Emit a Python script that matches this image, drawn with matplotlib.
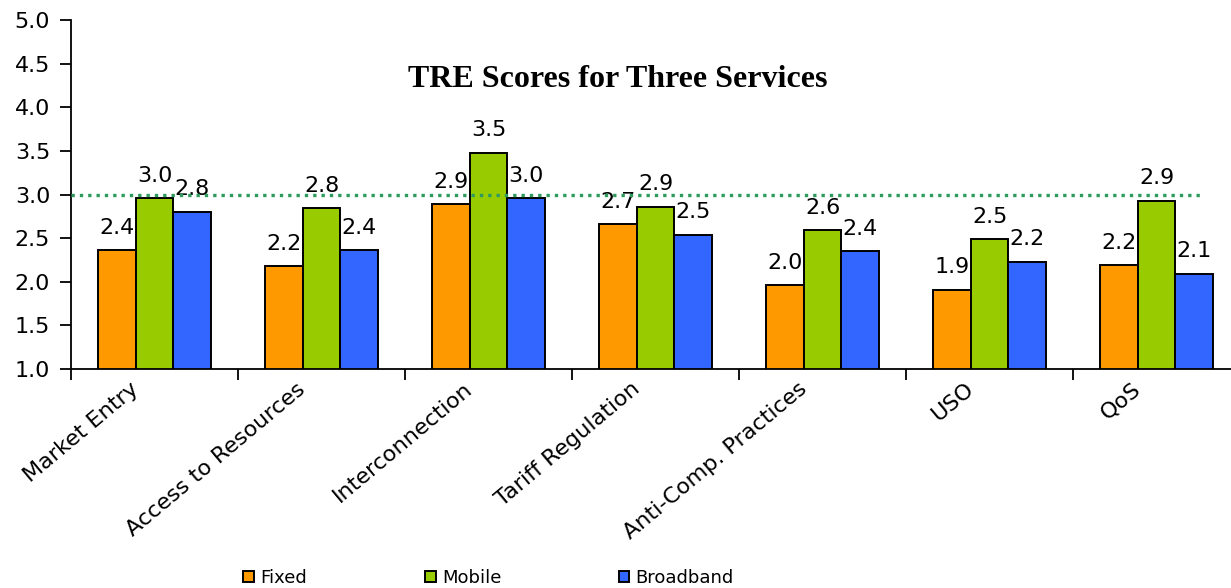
#!/usr/bin/env python

import matplotlib.pyplot as plt
import numpy as np
from matplotlib.transforms import ScaledTranslation

categories = ["Market Entry", "Access to Resources", "Interconnection",
              "Tariff Regulation", "Anti-Comp. Practices", "USO", "QoS"]
fixed = [2.36, 2.18, 2.89, 2.66, 1.96, 1.91, 2.19]
mobile = [2.96, 2.84, 3.48, 2.86, 2.59, 2.49, 2.93]
broadband = [2.80, 2.36, 2.96, 2.54, 2.35, 2.23, 2.09]
series_names = ["Fixed", "Mobile", "Broadband"]
colors = ["#FF9900", "#99CC00", "#3366FF"]
reference_level = 3.0
yticks = [1.0, 1.5, 2.0, 2.5, 3.0, 3.5, 4.0, 4.5, 5.0]

plt.rcParams["font.family"] = ["DejaVu Sans"]


def main():

    fig = plt.figure(figsize=(12.31, 5.88), dpi=100)
    ax = fig.add_axes([0.0577, 0.3724, 0.9497, 0.5935])

    x = np.arange(len(categories))
    width = 0.225
    for k, (vals, name, col) in enumerate(zip([fixed, mobile, broadband], series_names, colors)):
        pos = x + (k - 1) * width
        ax.bar(pos, vals, width, color=col, edgecolor="black",
               linewidth=1.4, label=name, zorder=2)
        for xi, v in zip(pos, vals):
            ax.annotate(f"{v:.1f}", (xi, v), xytext=(0, 9), textcoords="offset points",
                        ha="center", va="bottom", fontsize=16)

    # reference line at 3.0
    ax.plot([-0.5, 6.26], [reference_level, reference_level], linestyle=(0, (1, 1.5)),
            color="#2E9B5E", linewidth=2.4, zorder=3)

    ax.set_ylim(1.0, 5.0)
    ax.set_xlim(-0.5, len(categories) - 0.5)
    ax.set_yticks(yticks)
    ax.set_yticklabels([f"{t:.1f}" for t in yticks], fontsize=16)
    ax.tick_params(axis="y", direction="out", length=8, width=1.3, pad=7)

    ax.set_xticks(x)
    ax.set_xticklabels(categories, rotation=40, ha="right", rotation_mode="anchor", fontsize=16)
    ax.tick_params(axis="x", length=0, pad=7)
    shift = ScaledTranslation(-0.25, 0, fig.dpi_scale_trans)
    for lab in ax.get_xticklabels():
        lab.set_transform(lab.get_transform() + shift)
    ax.set_xticks(np.arange(len(categories)) - 0.5, minor=True)
    ax.tick_params(axis="x", which="minor", direction="out", length=8, width=1.3)

    ax.spines["top"].set_visible(False)
    ax.spines["right"].set_visible(False)
    ax.spines["left"].set_linewidth(1.3)
    ax.spines["bottom"].set_linewidth(1.3)

    fig.text(0.502, 0.865, "TRE Scores for Three Services", ha="center", va="center",
             fontsize=23, fontweight="bold", family=["Liberation Serif", "DejaVu Serif"])

    handles, labels = ax.get_legend_handles_labels()
    fig.legend(handles, labels, loc="center", bbox_to_anchor=(0.397, 0.017), ncol=3,
               frameon=False, fontsize=13, handlelength=0.6, handleheight=0.6,
               handletextpad=0.35, columnspacing=6.5)

    fig.savefig("out.png", dpi=100)


if __name__ == "__main__":
    main()
